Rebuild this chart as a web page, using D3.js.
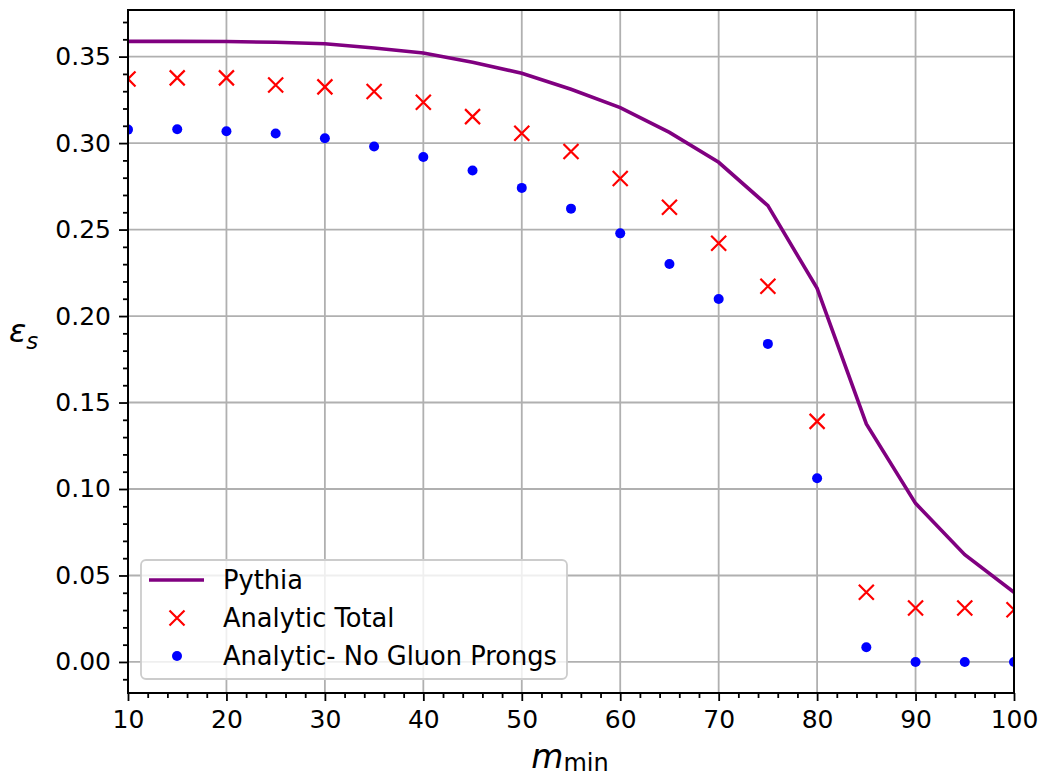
<!DOCTYPE html>
<html>
<head>
<meta charset="utf-8">
<script src="https://cdn.jsdelivr.net/npm/d3@7"></script>
<style>
html,body{margin:0;padding:0;background:#fff;}
svg{display:block;font-family:"DejaVu Sans",sans-serif;}
</style>
</head>
<body>
<svg id="chart" width="1040" height="778"></svg>
<script>
const mMin = [10,15,20,25,30,35,40,45,50,55,60,65,70,75,80,85,90,95,100];
const pythia = [0.3588,0.3588,0.3587,0.3583,0.3574,0.3550,0.3521,0.3467,0.3404,0.3311,0.3205,0.3062,0.2889,0.2638,0.2160,0.1376,0.0917,0.0620,0.0403];
const analyticTotal = [0.3371,0.3377,0.3377,0.3336,0.3325,0.3298,0.3236,0.3153,0.3057,0.2951,0.2795,0.2629,0.2421,0.2172,0.1391,0.0403,0.0312,0.0312,0.0302];
const analyticNoGluon = [0.3078,0.3080,0.3068,0.3055,0.3028,0.2980,0.2920,0.2841,0.2741,0.2621,0.2478,0.2301,0.2099,0.1839,0.1062,0.0085,0.0,0.0,0.0];
const xTicks = [10,20,30,40,50,60,70,80,90,100];
const yTicks = [0.00,0.05,0.10,0.15,0.20,0.25,0.30,0.35];
const legendLabels = ["Pythia","Analytic Total","Analytic- No Gluon Prongs"];

const svg = d3.select("#chart");
const L=128, R=1014, T=10, B=693;
const x = d3.scaleLinear().domain([10,100]).range([L,R]);
const y = d3.scaleLinear().domain([-0.01795,0.37695]).range([B,T]);

// grid
const grid = svg.append("g");
grid.selectAll("line.gx").data(xTicks).join("line")
  .attr("x1",d=>x(d)).attr("x2",d=>x(d)).attr("y1",T).attr("y2",B)
  .attr("stroke","#b0b0b0").attr("stroke-width",1.8);
grid.selectAll("line.gy").data(yTicks).join("line")
  .attr("y1",d=>y(d)).attr("y2",d=>y(d)).attr("x1",L).attr("x2",R)
  .attr("stroke","#b0b0b0").attr("stroke-width",1.8);

const clip = svg.append("clipPath").attr("id","clip").append("rect")
  .attr("x",L).attr("y",T).attr("width",R-L).attr("height",B-T);
const plot = svg.append("g").attr("clip-path","url(#clip)");

// Pythia line
plot.append("path")
  .datum(mMin.map((m,i)=>[m,pythia[i]]))
  .attr("fill","none").attr("stroke","#800080").attr("stroke-width",3.6)
  .attr("d", d3.line().x(d=>x(d[0])).y(d=>y(d[1])));

// Analytic total X markers
const s=7.5;
plot.selectAll("path.xm").data(mMin.map((m,i)=>[m,analyticTotal[i]])).join("path")
  .attr("d",d=>{const cx=x(d[0]),cy=y(d[1]);return `M${cx-s},${cy-s}L${cx+s},${cy+s}M${cx-s},${cy+s}L${cx+s},${cy-s}`;})
  .attr("stroke","#ff0000").attr("stroke-width",2.2).attr("fill","none");

// Analytic no gluon dots
plot.selectAll("circle.dm").data(mMin.map((m,i)=>[m,analyticNoGluon[i]])).join("circle")
  .attr("cx",d=>x(d[0])).attr("cy",d=>y(d[1])).attr("r",5).attr("fill","#0000ff");

// axes
const xAxis = d3.axisBottom(x).tickValues(xTicks).tickFormat(d3.format("d")).tickSize(8).tickPadding(9);
const xMinor = d3.axisBottom(x).tickValues(d3.range(10,101,2).filter(v=>v%10!==0)).tickFormat("").tickSize(5);
const yAxis = d3.axisLeft(y).tickValues(yTicks).tickFormat(d3.format(".2f")).tickSize(9).tickPadding(8);
const yMinor = d3.axisLeft(y).tickValues(d3.range(-1,38,1).filter(v=>v%5!==0).map(v=>v/100)).tickFormat("").tickSize(5);

function style(g){
  g.select(".domain").remove();
  g.selectAll("line").attr("stroke","#000").attr("stroke-width",1.8);
  g.selectAll("text").attr("fill","#000").attr("font-size",25).attr("font-family","DejaVu Sans");
}
svg.append("g").attr("transform",`translate(0,${B})`).call(xAxis).call(style);
svg.append("g").attr("transform",`translate(0,${B})`).call(xMinor).call(style);
svg.append("g").attr("transform",`translate(${L},0)`).call(yAxis).call(style);
svg.append("g").attr("transform",`translate(${L},0)`).call(yMinor).call(style);

// frame
svg.append("rect").attr("x",L).attr("y",T).attr("width",R-L).attr("height",B-T)
  .attr("fill","none").attr("stroke","#000").attr("stroke-width",2);

// legend
const lg = svg.append("g");
lg.append("rect").attr("x",141).attr("y",560).attr("width",426).attr("height",119)
  .attr("rx",5).attr("ry",5).attr("fill","#fff").attr("fill-opacity",0.8)
  .attr("stroke","#cccccc").attr("stroke-width",1.8);
const rows=[580,618,656];
lg.append("line").attr("x1",149).attr("x2",204).attr("y1",rows[0]).attr("y2",rows[0])
  .attr("stroke","#800080").attr("stroke-width",3.6);
const lx=177, ly=rows[1];
lg.append("path").attr("d",`M${lx-s},${ly-s}L${lx+s},${ly+s}M${lx-s},${ly+s}L${lx+s},${ly-s}`)
  .attr("stroke","#ff0000").attr("stroke-width",2.2);
lg.append("circle").attr("cx",177).attr("cy",rows[2]).attr("r",5).attr("fill","#0000ff");
lg.selectAll("text").data(legendLabels).join("text")
  .attr("x",223).attr("y",(d,i)=>rows[i]).attr("dy","0.36em")
  .attr("font-size",25.7).attr("fill","#000").text(d=>d);

// axis labels
const yl = svg.append("text").attr("x",9).attr("y",342).attr("fill","#000");
yl.append("tspan").attr("font-size",32).attr("font-style","italic").text("ε");
yl.append("tspan").attr("font-size",23).attr("font-style","italic").attr("dy",7).text("s");

const xl = svg.append("text").attr("x",570).attr("y",768).attr("text-anchor","middle").attr("fill","#000");
xl.append("tspan").attr("font-size",33).attr("font-style","italic").text("m");
xl.append("tspan").attr("font-size",24).attr("dy",3).text("min");
</script>
</body>
</html>
